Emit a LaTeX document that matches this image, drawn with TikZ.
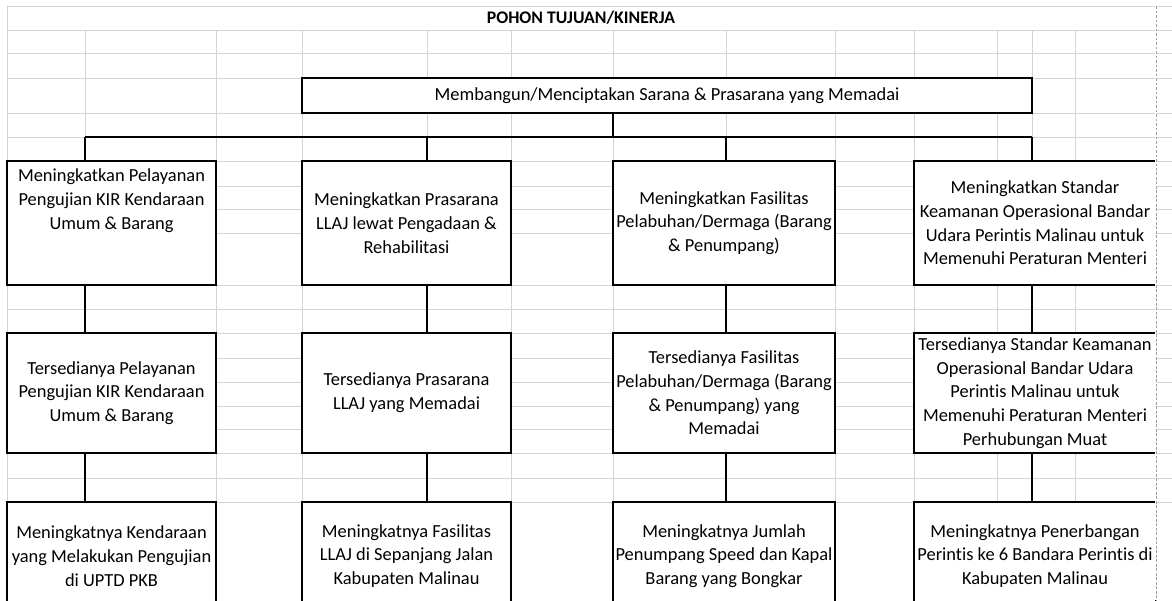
\documentclass[tikz,border=0pt]{standalone}
\usepackage{fontspec}
\setmainfont[Ligatures={NoCommon}]{Carlito}
\usepackage{tikz}
\usetikzlibrary{positioning,calc}
\definecolor{gridgray}{RGB}{212,212,212}
\definecolor{breakgray}{RGB}{160,160,160}
\tikzset{
  cell/.style  ={rectangle, draw=black, fill=white, line width=1.4pt, align=center, inner sep=1pt,
                 font=\fontsize{13.1}{16.9}\selectfont},
  gridln/.style={draw=gridgray, line width=0.7pt},
  link/.style  ={draw=black, line width=0.9pt},
}

\begin{document}
\begin{tikzpicture}[x=0.025cm, y=-0.025cm]
\clip (0,0) rectangle (1172,600);
\fill[white] (0,0) rectangle (1172,600);
\draw[gridln] (7,6) -- (1172,6);
\draw[gridln] (7,6) -- (7,600);
\foreach \gx in {85,216,302,427,511,613,726,835,914,997,1032,1075} \draw[gridln] (\gx,30) -- (\gx,600);
\foreach \gy in {30,53,78,113,137,161,186,209,233,285,309,333,358,382,406,429,453,478,502} \draw[gridln] (7,\gy) -- (1172,\gy);
\node[font=\fontsize{12.6}{14}\selectfont\bfseries] (judul) at (581,18) {POHON TUJUAN/KINERJA};
\node[cell, minimum width=18.25cm, minimum height=0.875cm] (goal) at (667,95.5) {Membangun/Menciptakan Sarana \& Prasarana yang Memadai};
\node[cell, minimum width=5.225cm, minimum height=3.1cm] (s1) at (111.5,223) {Meningkatkan Pelayanan\\Pengujian KIR Kendaraan\\Umum \& Barang\\~\\~};
\node[cell, minimum width=5.225cm, minimum height=3.1cm] (s2) at (406.5,223) {Meningkatkan Prasarana\\LLAJ lewat Pengadaan \&\\Rehabilitasi};
\node[cell, minimum width=5.55cm, minimum height=3.1cm] (s3) at (724,223) {Meningkatkan Fasilitas\\Pelabuhan/Dermaga (Barang\\\& Penumpang)};
\node[cell, minimum width=6.05cm, minimum height=3.1cm] (s4) at (1035,223) {Meningkatkan Standar\\Keamanan Operasional Bandar\\Udara Perintis Malinau untuk\\Memenuhi Peraturan Menteri};
\node[cell, minimum width=5.225cm, minimum height=3cm] (t1) at (111.5,393) {Tersedianya Pelayanan\\Pengujian KIR Kendaraan\\Umum \& Barang};
\node[cell, minimum width=5.225cm, minimum height=3cm] (t2) at (406.5,393) {Tersedianya Prasarana\\LLAJ yang Memadai};
\node[cell, minimum width=5.55cm, minimum height=3cm] (t3) at (724,393) {Tersedianya Fasilitas\\Pelabuhan/Dermaga (Barang\\\& Penumpang) yang\\Memadai};
\node[cell, minimum width=6.05cm, minimum height=3cm] (t4) at (1035,393) {Tersedianya Standar Keamanan\\Operasional Bandar Udara\\Perintis Malinau untuk\\Memenuhi Peraturan Menteri\\Perhubungan Muat};
\node[cell, minimum width=5.225cm, minimum height=2.7cm] (k1) at (111.5,556) {Meningkatnya Kendaraan\\yang Melakukan Pengujian\\di UPTD PKB};
\node[cell, minimum width=5.225cm, minimum height=2.7cm] (k2) at (406.5,556) {Meningkatnya Fasilitas\\LLAJ di Sepanjang Jalan\\Kabupaten Malinau};
\node[cell, minimum width=5.55cm, minimum height=2.7cm] (k3) at (724,556) {Meningkatnya Jumlah\\Penumpang Speed dan Kapal\\Barang yang Bongkar};
\node[cell, minimum width=6.05cm, minimum height=2.7cm] (k4) at (1035,556) {Meningkatnya Penerbangan\\Perintis ke 6 Bandara Perintis di\\Kabupaten Malinau};
\coordinate (bus) at (613,137);
\foreach \c/\x in {1/85,2/427,3/726,4/1032} \coordinate (d\c) at (\x,137);
\draw[link] (goal.south -| bus) -- (bus);
\draw[link] (d1) -- (d4);
\foreach \c in {1,...,4} {
  \draw[link] (d\c) -- (d\c |- s\c.north);
  \draw[link] (d\c |- s\c.south) -- (d\c |- t\c.north);
  \draw[link] (d\c |- t\c.south) -- (d\c |- k\c.north);
}
\draw[white, line width=1.8pt] (1156,6) -- (1156,600);
\draw[breakgray, line width=0.7pt, dash pattern=on 2pt off 1.2pt] (1156,6) -- (1156,600);
\end{tikzpicture}
\end{document}
